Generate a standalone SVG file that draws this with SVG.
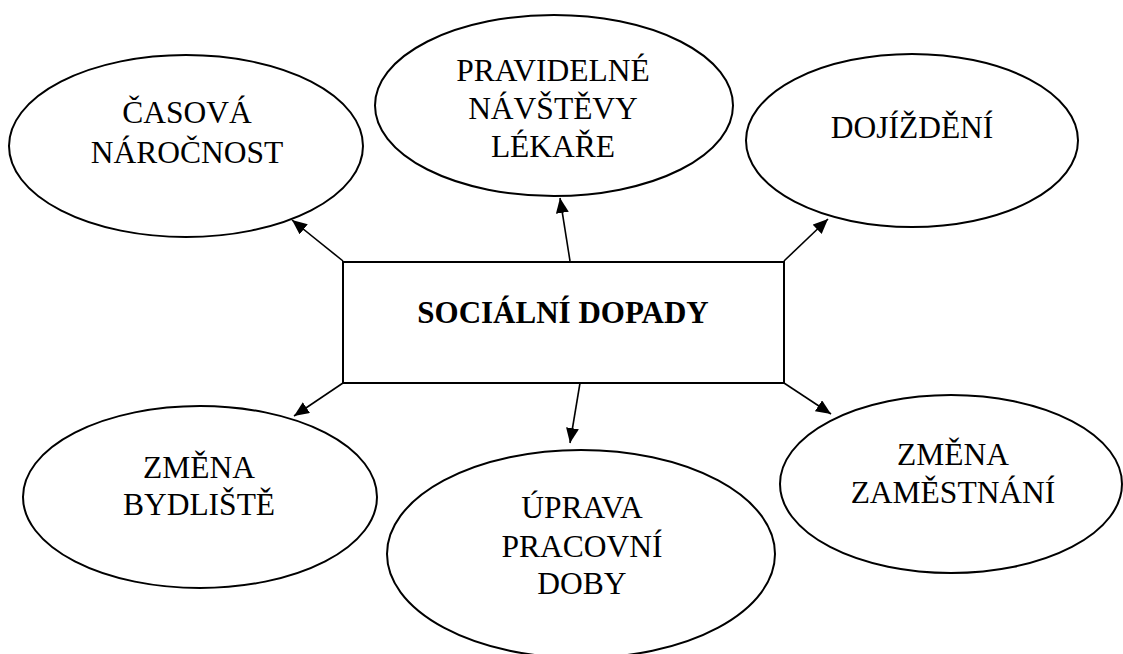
<svg xmlns="http://www.w3.org/2000/svg" width="1123" height="654" viewBox="0 0 1123 654">
<style>
.node ellipse, .node rect { fill: #fff; stroke: #000; stroke-width: 2; }
.lbl { font-family: "Liberation Serif", "Times New Roman", serif; font-size: 31.5px; fill: #000; text-anchor: middle; }
.title { font-weight: bold; font-size: 31px; }
.conn line { stroke: #000; stroke-width: 1.6; marker-end: url(#arr); }
</style>
<defs>
<marker id="arr" markerUnits="userSpaceOnUse" markerWidth="16" markerHeight="14" refX="15" refY="6.5" orient="auto">
<path d="M0,0 L15,6.5 L0,13 Z" fill="#000"/>
</marker>
</defs>
<rect width="1123" height="654" fill="#fff"/>
<g id="n1" class="node"><ellipse cx="186" cy="146" rx="177" ry="91"/>
<text class="lbl" x="187" y="123">ČASOVÁ</text><text class="lbl" x="187" y="163">NÁROČNOST</text></g>
<g id="n2" class="node"><ellipse cx="554" cy="105.5" rx="179" ry="90.5"/>
<text class="lbl" x="553" y="81">PRAVIDELNÉ</text><text class="lbl" x="553" y="119">NÁVŠTĚVY</text><text class="lbl" x="553" y="157">LÉKAŘE</text></g>
<g id="n3" class="node"><ellipse cx="912" cy="140.5" rx="166" ry="86.5"/>
<text class="lbl" x="912" y="138">DOJÍŽDĚNÍ</text></g>
<g id="n4" class="node"><ellipse cx="200" cy="497" rx="177" ry="91"/>
<text class="lbl" x="199" y="478">ZMĚNA</text><text class="lbl" x="199" y="515">BYDLIŠTĚ</text></g>
<g id="n5" class="node"><ellipse cx="581" cy="554" rx="194" ry="104"/>
<text class="lbl" x="582" y="518">ÚPRAVA</text><text class="lbl" x="582" y="557">PRACOVNÍ</text><text class="lbl" x="582" y="594">DOBY</text></g>
<g id="n6" class="node"><ellipse cx="951" cy="484" rx="171" ry="89"/>
<text class="lbl" x="953" y="465">ZMĚNA</text><text class="lbl" x="953" y="503">ZAMĚSTNÁNÍ</text></g>
<g id="center" class="node"><rect x="343" y="262" width="441" height="121"/>
<text class="lbl title" x="563" y="323">SOCIÁLNÍ DOPADY</text></g>
<g id="connectors" class="conn">
<line x1="343" y1="261" x2="292" y2="220"/>
<line x1="570" y1="261" x2="560" y2="198"/>
<line x1="784" y1="261" x2="828" y2="219"/>
<line x1="343" y1="383" x2="294" y2="416"/>
<line x1="580" y1="383" x2="570" y2="443"/>
<line x1="784" y1="383" x2="831" y2="414"/>
</g>
</svg>
